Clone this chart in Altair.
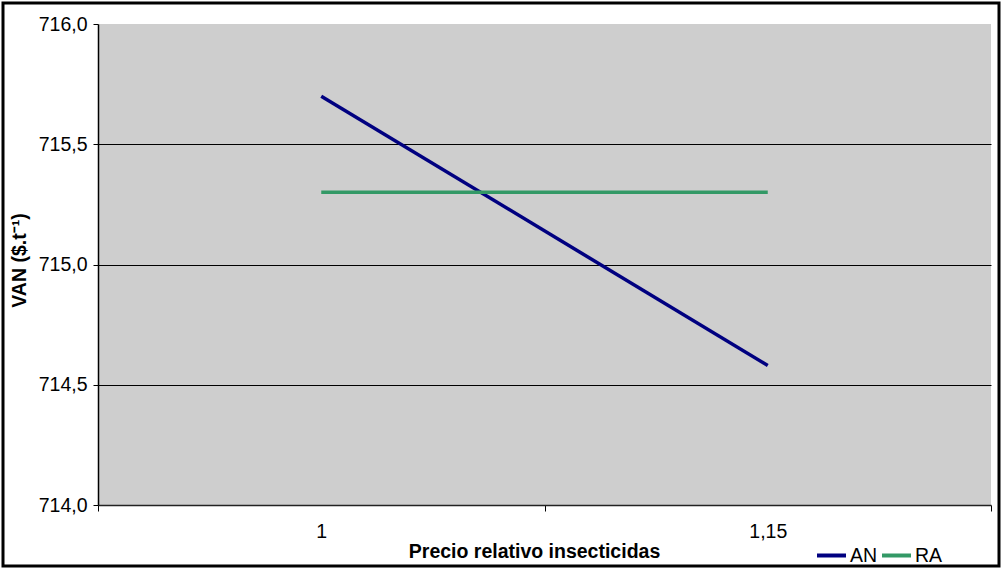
import altair as alt
import pandas as pd

# Relative insecticide price levels (category labels) and NPV per strategy
precio = ["1", "1,15"]
van_an = [715.70, 714.58]
van_ra = [715.30, 715.30]
series = ["AN", "RA"]
colores = ["#000080", "#339966"]
y_ticks = [714.0, 714.5, 715.0, 715.5, 716.0]

rows = []
for p, a, r in zip(precio, van_an, van_ra):
    rows.append({"precio": p, "serie": "AN", "van": a})
    rows.append({"precio": p, "serie": "RA", "van": r})
df = pd.DataFrame(rows)

FONT = "Liberation Sans"
FS = 19.5
W, H = 893, 481

x_enc = alt.X(
    "precio:N",
    sort=precio,
    bandPosition=0.5,
    scale=alt.Scale(type="band", domain=precio, paddingInner=0, paddingOuter=0),
    axis=alt.Axis(
        title="Precio relativo insecticidas",
        titleX=436, titleY=46, titleBaseline="middle", titleAlign="center",
        titleFontWeight="bold", titleFontSize=FS, titleFont=FONT, titleColor="#000",
        labelAngle=0, labelFontSize=FS, labelFont=FONT, labelColor="#000",
        labelPadding=11, tickBand="extent", tickSize=6, tickColor="#000",
        domainColor="#222", domainWidth=1.5, grid=False,
    ),
)

y_enc = alt.Y(
    "van:Q",
    scale=alt.Scale(domain=[714.0, 716.0], nice=False, zero=False),
    axis=alt.Axis(
        values=y_ticks,
        labelExpr="replace(format(datum.value, '.1f'), '.', ',')",
        title="VAN ($.t⁻¹)",
        titleX=-79, titleY=236, titleAngle=270,
        titleBaseline="middle", titleAlign="center",
        titleFontWeight="bold", titleFontSize=FS, titleFont=FONT, titleColor="#000",
        labelFontSize=FS, labelFont=FONT, labelColor="#000", labelPadding=6,
        tickSize=5, tickColor="#000", domainColor="#000", domainWidth=1.5,
        grid=True, gridColor="#000", gridWidth=1,
        gridOpacity={"condition": {"test": "datum.value >= 716 || datum.value <= 714", "value": 0}, "value": 1},
    ),
)

lines = alt.Chart(df).mark_line(strokeWidth=3.5, clip=False).encode(
    x=x_enc,
    y=y_enc,
    color=alt.Color(
        "serie:N",
        scale=alt.Scale(domain=series, range=colores),
        legend=alt.Legend(
            title=None, orient="none", legendX=717, legendY=515,
            direction="horizontal", symbolType="stroke", symbolSize=841,
            symbolStrokeWidth=4, labelFontSize=FS, labelFont=FONT,
            labelColor="#000", labelOffset=2, columnPadding=-4,
        ),
    ),
)

# Outer frame around the whole figure
frame_df = pd.DataFrame({"k": [0]})
frame = alt.Chart(frame_df).mark_rect(
    fill=None, stroke="#000", strokeWidth=3, clip=False
).encode(
    x=alt.value(-95), x2=alt.value(901), y=alt.value(-21), y2=alt.value(542)
)

chart = alt.layer(lines, frame).properties(
    width=W, height=H,
    autosize=alt.AutoSizeParams(type="none"),
    padding={"left": 98, "top": 24, "right": 11, "bottom": 64},
    background="#ffffff",
).configure_view(
    fill="#CECECE", stroke=None
)

chart.save("out.html", embed_options={"renderer": "svg", "actions": False})
